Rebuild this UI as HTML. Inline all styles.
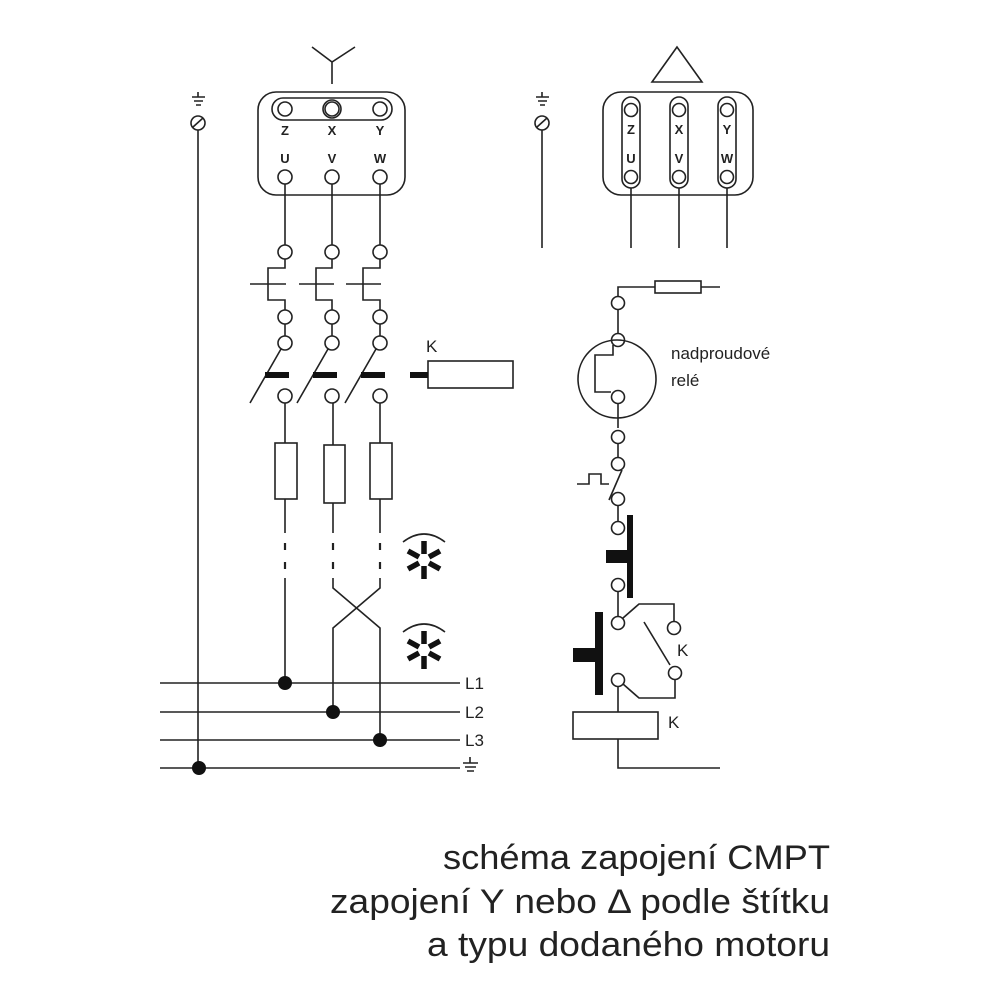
<!DOCTYPE html>
<html><head><meta charset="utf-8"><style>
html,body{margin:0;padding:0;background:#fff}
svg{display:block}
text{font-family:"Liberation Sans",sans-serif;fill:#222}
</style></head><body>
<svg width="1000" height="1000" viewBox="0 0 1000 1000" xmlns="http://www.w3.org/2000/svg">
<g stroke="#222" stroke-width="1.6" fill="none">
<path d="M312,47 L332,62 L355,47 M332,62 L332,84"/>
<rect x="258" y="92" width="147" height="103" rx="18"/>
<rect x="272" y="98" width="120" height="22" rx="11"/>
<circle cx="285" cy="109" r="7"/><circle cx="332" cy="109" r="7"/><circle cx="380" cy="109" r="7"/>
<circle cx="332" cy="109" r="9"/>
<circle cx="285" cy="177" r="7"/><circle cx="332" cy="177" r="7"/><circle cx="380" cy="177" r="7"/>
<path d="M285,184 V245 M332,184 V245 M380,184 V245"/>
<circle cx="285" cy="252" r="7"/><circle cx="332" cy="252" r="7"/><circle cx="380" cy="252" r="7"/>
<path d="M285,259 V268 H268 V300 H285 V310"/>
<path d="M332,259 V268 H316 V300 H332 V310"/>
<path d="M380,259 V268 H363 V300 H380 V310"/>
<path d="M250,284 H286 M299,284 H334 M346,284 H381"/>
<circle cx="285" cy="317" r="7"/><circle cx="332" cy="317" r="7"/><circle cx="380" cy="317" r="7"/>
<path d="M285,324 V336 M332,324 V336 M380,324 V336"/>
<circle cx="285" cy="343" r="7"/><circle cx="332" cy="343" r="7"/><circle cx="380" cy="343" r="7"/>
<path d="M281,349 L250,403 M328,349 L297,403 M376,349 L345,403"/>
<circle cx="285" cy="396" r="7"/><circle cx="332" cy="396" r="7"/><circle cx="380" cy="396" r="7"/>
<rect x="428" y="361" width="85" height="27"/>
<path d="M285,403 V443 M333,403 V445 M380,403 V443"/>
<rect x="275" y="443" width="22" height="56"/>
<rect x="324" y="445" width="21" height="58"/>
<rect x="370" y="443" width="22" height="56"/>
<path d="M285,499 V533 M333,503 V533 M380,499 V533"/>
<path d="M285,543 V550 M285,562 V569 M333,543 V550 M333,562 V569 M380,543 V550 M380,562 V569" stroke-width="2.2"/>
<path d="M285,578 V683"/>
<path d="M333,578 V588 L380,628 V740"/>
<path d="M380,578 V588 L333,628 V712"/>
<path d="M160,683 H460 M160,712 H460 M160,740 H460 M160,768 H460"/>
<path d="M192,97 H205 M198,92 V97 M194,101 H203 M196,105 H201"/>
<circle cx="198" cy="123" r="7"/>
<path d="M193,127 L203,118"/>
<path d="M198,130 V768"/>
<path d="M463,763 H478 M470,757 V763 M465,767 H476 M467,771 H474"/>
<path d="M403,542 Q424,526 445,542"/>
<path d="M403,632 Q424,616 445,632"/>

<path d="M677,47 L652,82 H702 Z"/>
<rect x="603" y="92" width="150" height="103" rx="18"/>
<rect x="622" y="97" width="18" height="91" rx="9"/>
<rect x="670" y="97" width="18" height="91" rx="9"/>
<rect x="718" y="97" width="18" height="91" rx="9"/>
<circle cx="631" cy="110" r="6.5"/><circle cx="679" cy="110" r="6.5"/><circle cx="727" cy="110" r="6.5"/>
<circle cx="631" cy="177" r="6.5"/><circle cx="679" cy="177" r="6.5"/><circle cx="727" cy="177" r="6.5"/>
<path d="M631,188 V248 M679,188 V248 M727,188 V248"/>
<path d="M536,97 H549 M542,92 V97 M538,101 H547 M540,105 H545"/>
<circle cx="542" cy="123" r="7"/>
<path d="M537,127 L547,118"/>
<path d="M542,130 V248"/>

<path d="M720,287 H618 V296"/>
<rect x="655" y="281" width="46" height="12" fill="#fff"/>
<circle cx="618" cy="303" r="6.5"/>
<path d="M618,310 V333"/>
<circle cx="617" cy="379" r="39"/>
<circle cx="618" cy="340" r="6.5"/>
<circle cx="618" cy="397" r="6.5"/>
<path d="M613,345 V355 H595 V392 H611"/>
<path d="M618,404 V428"/>
<circle cx="618" cy="437" r="6.5"/>
<path d="M618,444 V457"/>
<circle cx="618" cy="464" r="6.5"/>
<path d="M577,484 H589 V474 H601 V484 H609"/>
<path d="M622,470 L609,500"/>
<circle cx="618" cy="499" r="6.5"/>
<path d="M618,506 V521"/>
<circle cx="618" cy="528" r="6.5"/>
<circle cx="618" cy="585" r="6.5"/>
<path d="M618,592 V616"/>
<circle cx="618" cy="623" r="6.5"/>
<path d="M623,618 L639,604 H674 V621"/>
<circle cx="674" cy="628" r="6.5"/>
<path d="M644,622 L670,665"/>
<circle cx="675" cy="673" r="6.5"/>
<path d="M675,680 V698 H639 L623,684"/>
<circle cx="618" cy="680" r="6.5"/>
<path d="M618,687 V712"/>
<rect x="573" y="712" width="85" height="27"/>
<path d="M618,739 V768 H720"/>
</g>
<g fill="#111">
<rect x="265" y="372" width="24" height="6"/>
<rect x="313" y="372" width="24" height="6"/>
<rect x="361" y="372" width="24" height="6"/>
<rect x="410" y="372" width="18" height="6"/>
<rect x="627" y="515" width="6" height="83"/>
<rect x="606" y="550" width="22" height="13"/>
<rect x="595" y="612" width="8" height="83"/>
<rect x="573" y="648" width="23" height="14"/>
<circle cx="285" cy="683" r="7"/>
<circle cx="333" cy="712" r="7"/>
<circle cx="380" cy="740" r="7"/>
<circle cx="199" cy="768" r="7"/>
</g>
<g stroke="#111" stroke-width="5.5" stroke-linecap="butt">
<path d="M424,554 V541 M424,566 V579 M419,557 L408,551 M429,557 L440,551 M419,563 L408,569 M429,563 L440,569"/>
<path d="M424,644 V631 M424,656 V669 M419,647 L408,641 M429,647 L440,641 M419,653 L408,659 M429,653 L440,659"/>
</g>
<g font-size="13" font-weight="bold" text-anchor="middle">
<text x="285" y="135">Z</text><text x="332" y="135">X</text><text x="380" y="135">Y</text>
<text x="285" y="163">U</text><text x="332" y="163">V</text><text x="380" y="163">W</text>
<text x="631" y="134">Z</text><text x="679" y="134">X</text><text x="727" y="134">Y</text>
<text x="631" y="163">U</text><text x="679" y="163">V</text><text x="727" y="163">W</text>
</g>
<g font-size="17">
<text x="426" y="352">K</text>
<text x="465" y="689">L1</text>
<text x="465" y="718">L2</text>
<text x="465" y="746">L3</text>
<text x="671" y="359">nadproudové</text>
<text x="671" y="386">relé</text>
<text x="677" y="656">K</text>
<text x="668" y="728">K</text>
</g>
<g font-size="34" text-anchor="end" style="fill:#333">
<text x="830" y="869" textLength="387" lengthAdjust="spacingAndGlyphs">schéma zapojení CMPT</text>
<text x="830" y="913" textLength="500" lengthAdjust="spacingAndGlyphs">zapojení Y nebo Δ podle štítku</text>
<text x="830" y="956" textLength="403" lengthAdjust="spacingAndGlyphs">a typu dodaného motoru</text>
</g>
</svg>
</body></html>
